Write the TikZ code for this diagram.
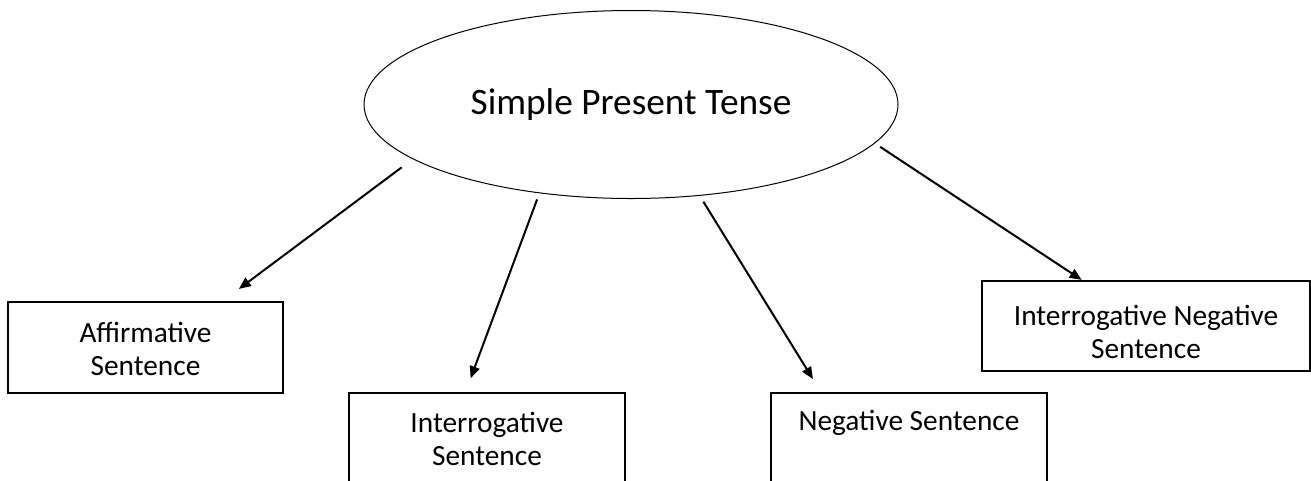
\documentclass[tikz,border=0pt]{standalone}
\usepackage{fontspec}
\setmainfont{Carlito}
\usetikzlibrary{shapes.geometric,arrows.meta}

\begin{document}
\begin{tikzpicture}[x=0.75pt,y=0.75pt,yscale=-1,xscale=1,
    tense/.style={ellipse, draw, line width=0.75pt, minimum width=400.5pt, minimum height=141pt, inner sep=0pt, outer sep=0pt, font=\fontsize{28}{34}\selectfont},
    sentbox/.style={draw, line width=1pt, anchor=north, inner sep=0pt, outer sep=0pt, align=flush center, text width=#1, font=\fontsize{22}{25}\selectfont},
    branch/.style={line width=1.5pt, -{Triangle[length=9pt,width=7.5pt]}}]
    \useasboundingbox (0,0) rectangle (1311,480);
    \clip (0,0) rectangle (1311,480);

    %Shape: Ellipse [id:tense]
    \node[tense] (spt) at (631,104.5) {Simple Present Tense};

    %Shape: Rectangle [id:aff]
    \node[sentbox=206.25pt, text height=30pt, text depth=38.25pt] (aff) at (145.5,302) {Affirmative\\Sentence};
    %Shape: Rectangle [id:interrog]
    \node[sentbox=207pt, text height=29.25pt, text depth=51pt] (interrog) at (487,393) {Interrogative\\Sentence};
    %Shape: Rectangle [id:neg]
    \node[sentbox=207pt, text height=27.75pt, text depth=52.5pt] (neg) at (909,393) {Negative Sentence};
    %Shape: Rectangle [id:intneg]
    \node[sentbox=246pt, text height=33pt, text depth=34.5pt] (intneg) at (1146,281) {Interrogative Negative\\Sentence};

    %Straight Lines
    \draw[branch, shorten <=10.7pt, shorten >=16.4pt] (spt.194) -- ([xshift=56.9pt]aff.north);
    %Straight Lines
    \draw[branch, shorten <=5.3pt, shorten >=11.8pt] (spt.224) -- ([xshift=-16.4pt]interrog.north);
    %Straight Lines
    \draw[branch, shorten <=5.6pt, shorten >=12.3pt] (spt.307) -- ([xshift=-65.6pt]neg.north);
    %Straight Lines
    \draw[branch, shorten <=5.1pt, shorten >=1.5pt] (spt.351) -- ([xshift=-47pt]intneg.north);

\end{tikzpicture}
\end{document}
